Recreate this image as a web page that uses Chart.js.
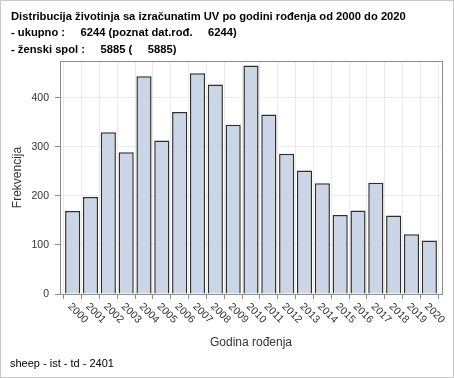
<!DOCTYPE html>
<html>
<head>
<meta charset="utf-8">
<script src="https://cdn.jsdelivr.net/npm/chart.js@4/dist/chart.umd.min.js"></script>
<style>
  html, body { margin: 0; padding: 0; background: #fff; }
  canvas { display: block; }
</style>
</head>
<body>
<canvas id="chartGodine" width="454" height="378"></canvas>
<script>
// godine rodjenja i frekvencija (zenski spol)
const godine = ['2000', '2001', '2002', '2003', '2004', '2005', '2006', '2007', '2008', '2009', '2010',
  '2011', '2012', '2013', '2014', '2015', '2016', '2017', '2018', '2019', '2020'];
const frekvencije = [169, 198, 330, 289, 444, 313, 371, 450, 427, 345, 466,
  366, 286, 252, 226, 161, 170, 227, 160, 122, 109];
const yTicks = [0, 100, 200, 300, 400];
const naslov = [
  'Distribucija životinja sa izračunatim UV po godini rođenja od 2000 do 2020',
  '- ukupno :     6244 (poznat dat.rođ.     6244)',
  '- ženski spol :     5885 (     5885)',
];
const podnozje = 'sheep - ist - td - 2401';
const osX = 'Godina rođenja';
const osY = 'Frekvencija';

const FONT = 'Arial, "Liberation Sans", sans-serif';
// SAS ostavlja malo vise mjesta lijevo/desno od krajnjih stupaca
const X_PAD = 0.71;

// tekstovi, okvir i zakrenute oznake godina (SAS stil)
const sasDecor = {
  id: 'sasDecor',
  afterDraw(chart) {
    const { ctx, chartArea: a, scales } = chart;
    ctx.save();
    // okvir grafa
    ctx.strokeStyle = '#8c8c8c';
    ctx.lineWidth = 1;
    ctx.strokeRect(Math.round(a.left) + 0.5, Math.round(a.top) + 0.5, Math.round(a.right - a.left), Math.round(a.bottom - a.top));
    // vanjski okvir
    ctx.strokeStyle = '#c8c8c8';
    ctx.strokeRect(0.5, 0.5, chart.width - 1, chart.height - 1);

    ctx.fillStyle = '#000';
    ctx.font = 'bold 11.2px ' + FONT;
    ctx.textAlign = 'left';
    ctx.textBaseline = 'alphabetic';
    naslov.forEach((t, i) => ctx.fillText(t, 11, 19.5 + i * 16.8));

    ctx.font = '11px ' + FONT;
    ctx.fillText(podnozje, 10, 366.5);

    ctx.fillStyle = '#333';
    ctx.font = '12px ' + FONT;
    ctx.textAlign = 'center';
    ctx.fillText(osX, (a.left + a.right) / 2, 346);
    ctx.save();
    ctx.translate(20.5, (a.top + a.bottom) / 2);
    ctx.rotate(-Math.PI / 2);
    ctx.fillText(osY, 0, 0);
    ctx.restore();

    ctx.font = '10.5px ' + FONT;
    ctx.textAlign = 'left';
    ctx.textBaseline = 'middle';
    const x = scales.x;
    godine.forEach((g, i) => {
      ctx.save();
      ctx.translate(x.getPixelForValue(i) - 3, a.bottom + 11);
      ctx.rotate(Math.PI / 4);
      ctx.fillText(g, 0, 0);
      ctx.restore();
    });
    ctx.restore();
  },
};

new Chart(document.getElementById('chartGodine'), {
  type: 'bar',
  data: {
    datasets: [{
      data: frekvencije.map((v, i) => ({ x: i, y: v })),
      backgroundColor: '#cad5e5',
      borderColor: '#2e2e2e',
      borderWidth: 1.5,
      barPercentage: 0.85,
      categoryPercentage: 1,
    }],
  },
  options: {
    responsive: false,
    animation: false,
    layout: { padding: { left: 0, top: 61, right: 12, bottom: 79 } },
    plugins: { legend: { display: false }, tooltip: { enabled: false }, title: { display: false } },
    scales: {
      x: {
        type: 'linear',
        offset: false,
        min: -X_PAD,
        max: godine.length - 1 + X_PAD,
        afterBuildTicks: (s) => { s.ticks = godine.map((g, i) => ({ value: i })); },
        grid: { color: '#ebebeb', tickColor: '#8c8c8c', tickLength: 5 },
        border: { display: false },
        ticks: { display: false },
        afterFit: (s) => { s.height = 5; },
      },
      y: {
        min: 0,
        max: 475,
        afterBuildTicks: (s) => { s.ticks = yTicks.map((v) => ({ value: v })); },
        grid: { color: '#ebebeb', tickColor: '#8c8c8c', tickLength: 5 },
        border: { display: false },
        ticks: { color: '#333', padding: 6, font: { family: FONT, size: 10.5 } },
        afterFit: (s) => { s.width = 60; },
      },
    },
  },
  plugins: [sasDecor],
});
</script>
</body>
</html>
